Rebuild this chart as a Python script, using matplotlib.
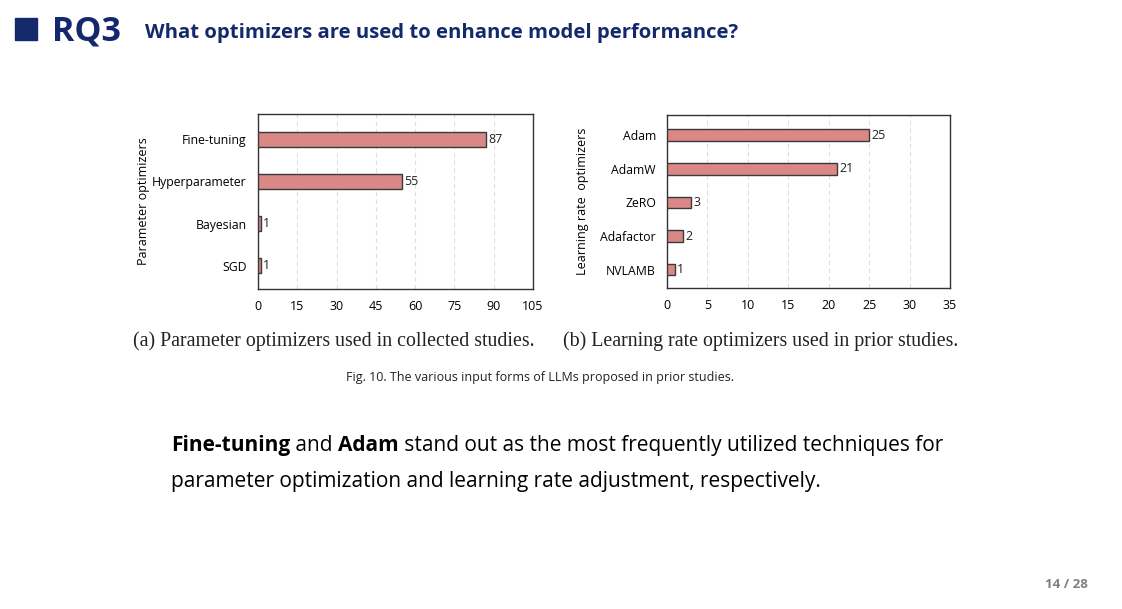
import matplotlib
matplotlib.use("Agg")
import matplotlib.pyplot as plt
from matplotlib.patches import Rectangle

# data
param_names = ["Fine-tuning", "Hyperparameter", "Bayesian", "SGD"]
param_counts = [87, 55, 1, 1]
lr_names = ["Adam", "AdamW", "ZeRO", "Adafactor", "NVLAMB"]
lr_counts = [25, 21, 3, 2, 1]

navy = "#14296b"
bar_fill = "#d98886"
bar_edge = "#3a3a3a"

plt.rcParams["font.family"] = ["Open Sans", "DejaVu Sans"]

fig = plt.figure(figsize=(11.22, 6.09), dpi=100)
fig.patch.set_facecolor("white")


def draw_bars(ax, names, counts, xmax, step, ylabel, lpad):
    pos = list(range(len(names)))
    ax.barh(pos, counts, height=0.35, color=bar_fill, edgecolor=bar_edge, linewidth=1.0, zorder=3)
    for p, c in zip(pos, counts):
        ax.text(c + xmax * 0.008, p, str(c), va="center", ha="left", fontsize=9, color="#222222")
    ax.set_xlim(0, xmax)
    ax.set_ylim(len(names) - 0.45, -0.6)
    ax.set_yticks(pos)
    ax.set_yticklabels(names, fontsize=8.8)
    ax.set_xticks(range(0, xmax + 1, step))
    ax.tick_params(axis="y", length=0, labelsize=8.8, pad=8)
    ax.tick_params(axis="x", length=0, labelsize=9, pad=8)
    ax.xaxis.grid(True, linestyle=(0, (4, 3)), color="#dddddd", linewidth=0.8, zorder=0)
    ax.set_ylabel(ylabel, fontsize=9, labelpad=lpad)
    for s in ax.spines.values():
        s.set_linewidth(1.0)
        s.set_color("#333333")


ax1 = fig.add_axes([0.2299, 0.5255, 0.2451, 0.2874])
draw_bars(ax1, param_names, param_counts, 105, 15, "Parameter optimizers", 1.5)
ax2 = fig.add_axes([0.5945, 0.527, 0.2522, 0.284])
draw_bars(ax2, lr_names, lr_counts, 35, 5, "Learning rate  optimizers", 8)

# captions
fig.text(334 / 1122, 1 - 341 / 609, "(a) Parameter optimizers used in collected studies.",
         ha="center", va="center", fontsize=14.3, family="Liberation Serif", color="#222222")
fig.text(761 / 1122, 1 - 341 / 609, "(b) Learning rate optimizers used in prior studies.",
         ha="center", va="center", fontsize=14.3, family="Liberation Serif", color="#222222")
fig.text(540 / 1122, 1 - 378 / 609, "Fig. 10. The various input forms of LLMs proposed in prior studies.",
         ha="center", va="center", fontsize=9, color="#222222")

# header
fig.patches.append(Rectangle((15 / 1122, 1 - 40 / 609), 22 / 1122, 22 / 609,
                             transform=fig.transFigure, color=navy))
fig.text(52 / 1122, 1 - 31 / 609, "RQ3", fontsize=24.5, fontweight="bold", color=navy, va="center")
fig.text(145 / 1122, 1 - 33 / 609, "What optimizers are used to enhance model performance?",
         fontsize=14.6, fontweight="bold", color=navy, va="center")

# body text with bold pieces
renderer = fig.canvas.get_renderer()


def write_line(x, y, pieces):
    for txt, bold in pieces:
        t = fig.text(x, y, txt, fontsize=15, fontweight="bold" if bold else "normal",
                     color="black", va="baseline")
        bb = t.get_window_extent(renderer=renderer)
        x += bb.width / fig.bbox.width


write_line(171 / 1122, 1 - 451 / 609,
           [("Fine-tuning", True), (" and ", False), ("Adam", True),
            (" stand out as the most frequently utilized techniques for", False)])
write_line(171 / 1122, 1 - 487 / 609,
           [("parameter optimization and learning rate adjustment, respectively.", False)])

fig.text(1066 / 1122, 1 - 584 / 609, "14 / 28", fontsize=9.5, fontweight="bold",
         color="#7f7f7f", ha="center", va="center")

fig.savefig("out.png", dpi=100)
